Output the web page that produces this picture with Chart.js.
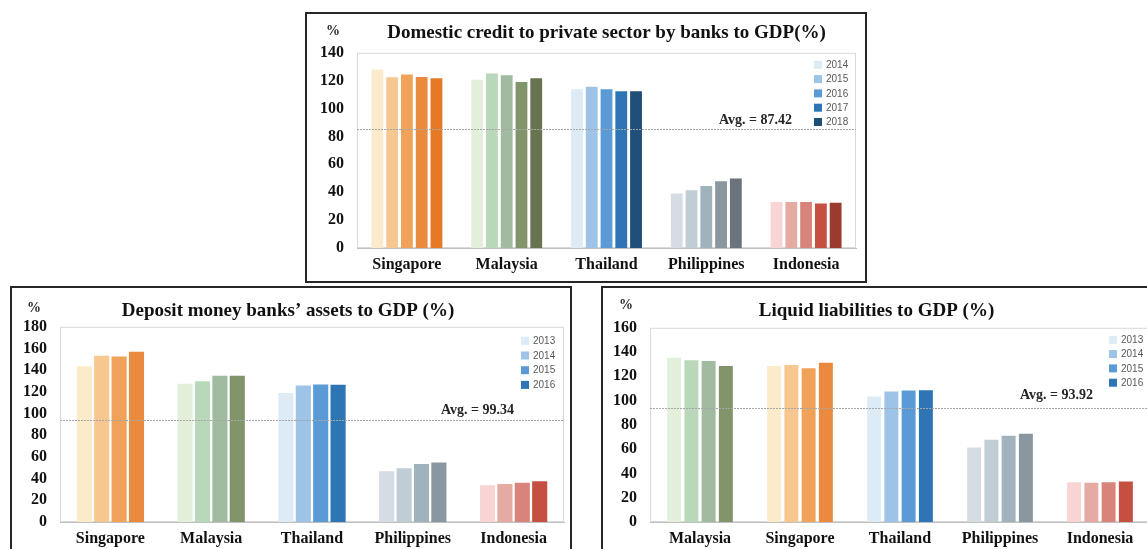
<!DOCTYPE html>
<html>
<head>
<meta charset="utf-8">
<script src="https://cdn.jsdelivr.net/npm/chart.js@4.4.0/dist/chart.umd.min.js"></script>
<style>
body{margin:0;background:#fff;width:1147px;height:549px;overflow:hidden;position:relative;}
.box{position:absolute;border:2px solid #262626;background:#fff;}
.box canvas{display:block;}
</style>
</head>
<body>
<div class="box" style="left:305px;top:12px;"><canvas id="creditChart" width="558" height="267"></canvas></div>
<div class="box" style="left:10px;top:286px;"><canvas id="depositChart" width="558" height="276"></canvas></div>
<div class="box" style="left:601px;top:286px;"><canvas id="liquidChart" width="558" height="276"></canvas></div>
<script>
// Domestic credit to private sector by banks to GDP (%)
const creditCountries = ['Singapore', 'Malaysia', 'Thailand', 'Philippines', 'Indonesia'];
const creditYears = ['2014', '2015', '2016', '2017', '2018'];
const credit2014 = [128.0, 120.6, 113.9, 39.0, 33.0];
const credit2015 = [122.5, 125.1, 115.6, 41.4, 33.0];
const credit2016 = [124.4, 123.9, 113.9, 44.5, 33.0];
const credit2017 = [122.7, 119.1, 112.4, 47.8, 32.0];
const credit2018 = [121.8, 121.8, 112.4, 49.8, 32.5];
const creditTicks = [0, 20, 40, 60, 80, 100, 120, 140];
const creditAvgText = 'Avg. = 87.42';
const creditAvgLine = 85.6;

// Deposit money banks' assets to GDP (%)
const depositCountries = ['Singapore', 'Malaysia', 'Thailand', 'Philippines', 'Indonesia'];
const depositYears = ['2013', '2014', '2015', '2016'];
const deposit2013 = [143.7, 127.4, 119.0, 46.8, 33.8];
const deposit2014 = [153.2, 129.8, 125.8, 49.5, 35.1];
const deposit2015 = [152.6, 134.8, 126.8, 53.5, 36.3];
const deposit2016 = [156.9, 134.8, 126.5, 54.8, 37.5];
const depositTicks = [0, 20, 40, 60, 80, 100, 120, 140, 160, 180];
const depositAvgText = 'Avg. = 99.34';
const depositAvgLine = 94.2;

// Liquid liabilities to GDP (%)
const liquidCountries = ['Malaysia', 'Singapore', 'Thailand', 'Philippines', 'Indonesia'];
const liquidYears = ['2013', '2014', '2015', '2016'];
const liquid2013 = [135.4, 128.6, 103.4, 61.3, 32.8];
const liquid2014 = [133.2, 129.4, 107.5, 67.8, 32.3];
const liquid2015 = [132.7, 126.6, 108.3, 71.1, 32.8];
const liquid2016 = [128.6, 131.3, 108.6, 72.8, 33.4];
const liquidTicks = [0, 20, 40, 60, 80, 100, 120, 140, 160];
const liquidAvgText = 'Avg. = 93.92';
const liquidAvgLine = 94.1;

// colour ramps, one per country (light -> dark by year)
const palettes = {
    Singapore: ['#FCEBCB', '#F6C88F', '#F0A258', '#EA8A3E', '#E67A24'],
    Malaysia: ['#E2EFDA', '#B9D7B9', '#A0BBA0', '#82946A', '#68744F'],
    Thailand: ['#DDEBF7', '#9DC3E6', '#5B9BD5', '#2E75B6', '#1F4E79'],
    Philippines: ['#D6DCE4', '#C0CDD4', '#A0B2BC', '#8A96A0', '#6B737C'],
    Indonesia: ['#F8D5D4', '#E5AAA2', '#D8847A', '#C55041', '#9A3B2E']
};

const serif = '"Liberation Serif", "Times New Roman", serif';

// linha media, legenda, sinal de % e moldura da area
const decorPlugin = {
    id: 'decor',
    beforeDatasetsDraw(chart) {
        const { ctx, chartArea: a } = chart;
        ctx.save();
        ctx.strokeStyle = '#d9d9d9';
        ctx.lineWidth = 1;
        ctx.strokeRect(a.left + 0.5, a.top + 0.5, a.width - 1, a.height - 1);
        ctx.restore();
    },
    afterDatasetsDraw(chart, args, opts) {
        const { ctx, chartArea: a } = chart;
        const y = Math.round(chart.scales.y.getPixelForValue(opts.avgLine)) + 0.5;
        ctx.save();
        // average line
        ctx.strokeStyle = '#a6a6a6';
        ctx.lineWidth = 1;
        ctx.setLineDash([2, 1]);
        ctx.beginPath();
        ctx.moveTo(a.left, y);
        ctx.lineTo(a.right, y);
        ctx.stroke();
        ctx.setLineDash([]);
        ctx.fillStyle = '#262626';
        ctx.font = 'bold 14px ' + serif;
        ctx.textAlign = 'right';
        ctx.textBaseline = 'alphabetic';
        ctx.fillText(opts.avgText, a.right - opts.avgRight, y - opts.avgRaise);
        // % sign
        ctx.font = 'bold 14px ' + serif;
        ctx.textAlign = 'center';
        ctx.textBaseline = 'middle';
        ctx.fillText('%', a.left - opts.pctDx, opts.pctY);
        // legend
        ctx.font = '10px "Liberation Sans", Arial, sans-serif';
        ctx.textAlign = 'left';
        chart.data.datasets.forEach((ds, i) => {
            const ly = a.top + opts.legendTop + i * opts.legendStep;
            const lx = a.right - opts.legendRight;
            ctx.fillStyle = palettes.Thailand[i];
            ctx.fillRect(lx, ly - 4, 8, 8);
            ctx.fillStyle = '#595959';
            ctx.fillText(ds.label, lx + 12, ly + 0.5);
        });
        ctx.restore();
    }
};

function buildDatasets(countries, years, series, catPct, barPct) {
    return years.map((year, i) => ({
        label: year,
        data: series[i],
        backgroundColor: countries.map(c => palettes[c][i]),
        categoryPercentage: catPct,
        barPercentage: barPct
    }));
}

function makeChart(id, cfg) {
    return new Chart(document.getElementById(id), {
        type: 'bar',
        data: {
            labels: cfg.countries,
            datasets: buildDatasets(cfg.countries, cfg.years, cfg.series, cfg.catPct, cfg.barPct)
        },
        options: {
            responsive: false,
            animation: false,
            layout: { padding: cfg.padding },
            plugins: {
                legend: { display: false },
                tooltip: { enabled: false },
                title: {
                    display: true,
                    text: cfg.title,
                    fullSize: cfg.titleFull,
                    color: '#111',
                    font: { family: serif, size: 19, weight: 'bold' },
                    padding: cfg.titlePad
                },
                decor: cfg.decor
            },
            scales: {
                x: {
                    afterFit: s => { s.height = 26; },
                    grid: { display: false, drawTicks: false },
                    border: { color: '#bfbfbf' },
                    ticks: { color: '#111', font: { family: serif, size: 16, weight: 'bold' }, padding: 7 }
                },
                y: {
                    min: 0,
                    max: cfg.ticks[cfg.ticks.length - 1],
                    afterBuildTicks: s => { s.ticks = cfg.ticks.map(v => ({ value: v })); },
                    afterFit: s => { s.width = cfg.yWidth; },
                    grid: { display: false, drawTicks: false },
                    border: { display: false },
                    ticks: { autoSkip: false, color: '#111', font: { family: serif, size: 16, weight: 'bold' }, padding: 13 }
                }
            }
        },
        plugins: [decorPlugin]
    });
}

makeChart('creditChart', {
    countries: creditCountries,
    years: creditYears,
    series: [credit2014, credit2015, credit2016, credit2017, credit2018],
    ticks: creditTicks,
    catPct: 0.74,
    barPct: 0.8,
    title: 'Domestic credit to private sector by banks to GDP(%)',
    titleFull: false,
    titlePad: { top: 8, bottom: 8 },
    padding: { left: 0, right: 9, top: 0, bottom: 7 },
    yWidth: 50,
    decor: { avgLine: creditAvgLine, avgText: creditAvgText, avgRight: 64, avgRaise: 6,
             pctDx: 24, pctY: 17,
             legendTop: 12, legendStep: 14.3, legendRight: 42 }
});

makeChart('depositChart', {
    countries: depositCountries,
    years: depositYears,
    series: [deposit2013, deposit2014, deposit2015, deposit2016],
    ticks: depositTicks,
    catPct: 0.69,
    barPct: 0.87,
    title: 'Deposit money banks\u2019 assets to GDP (%)',
    titleFull: true,
    titlePad: { top: 12, bottom: 4 },
    padding: { left: 0, right: 6, top: 0, bottom: 16 },
    yWidth: 48,
    decor: { avgLine: depositAvgLine, avgText: depositAvgText, avgRight: 50, avgRaise: 7,
             pctDx: 26, pctY: 20,
             legendTop: 14, legendStep: 14.7, legendRight: 43 }
});

makeChart('liquidChart', {
    countries: liquidCountries,
    years: liquidYears,
    series: [liquid2013, liquid2014, liquid2015, liquid2016],
    ticks: liquidTicks,
    catPct: 0.69,
    barPct: 0.81,
    title: 'Liquid liabilities to GDP (%)',
    titleFull: true,
    titlePad: { top: 12, bottom: 5 },
    padding: { left: 0, right: 11, top: 0, bottom: 16 },
    yWidth: 47,
    decor: { avgLine: liquidAvgLine, avgText: liquidAvgText, avgRight: 57, avgRaise: 10,
             pctDx: 24, pctY: 17,
             legendTop: 12, legendStep: 14.3, legendRight: 41 }
});
</script>
</body>
</html>
